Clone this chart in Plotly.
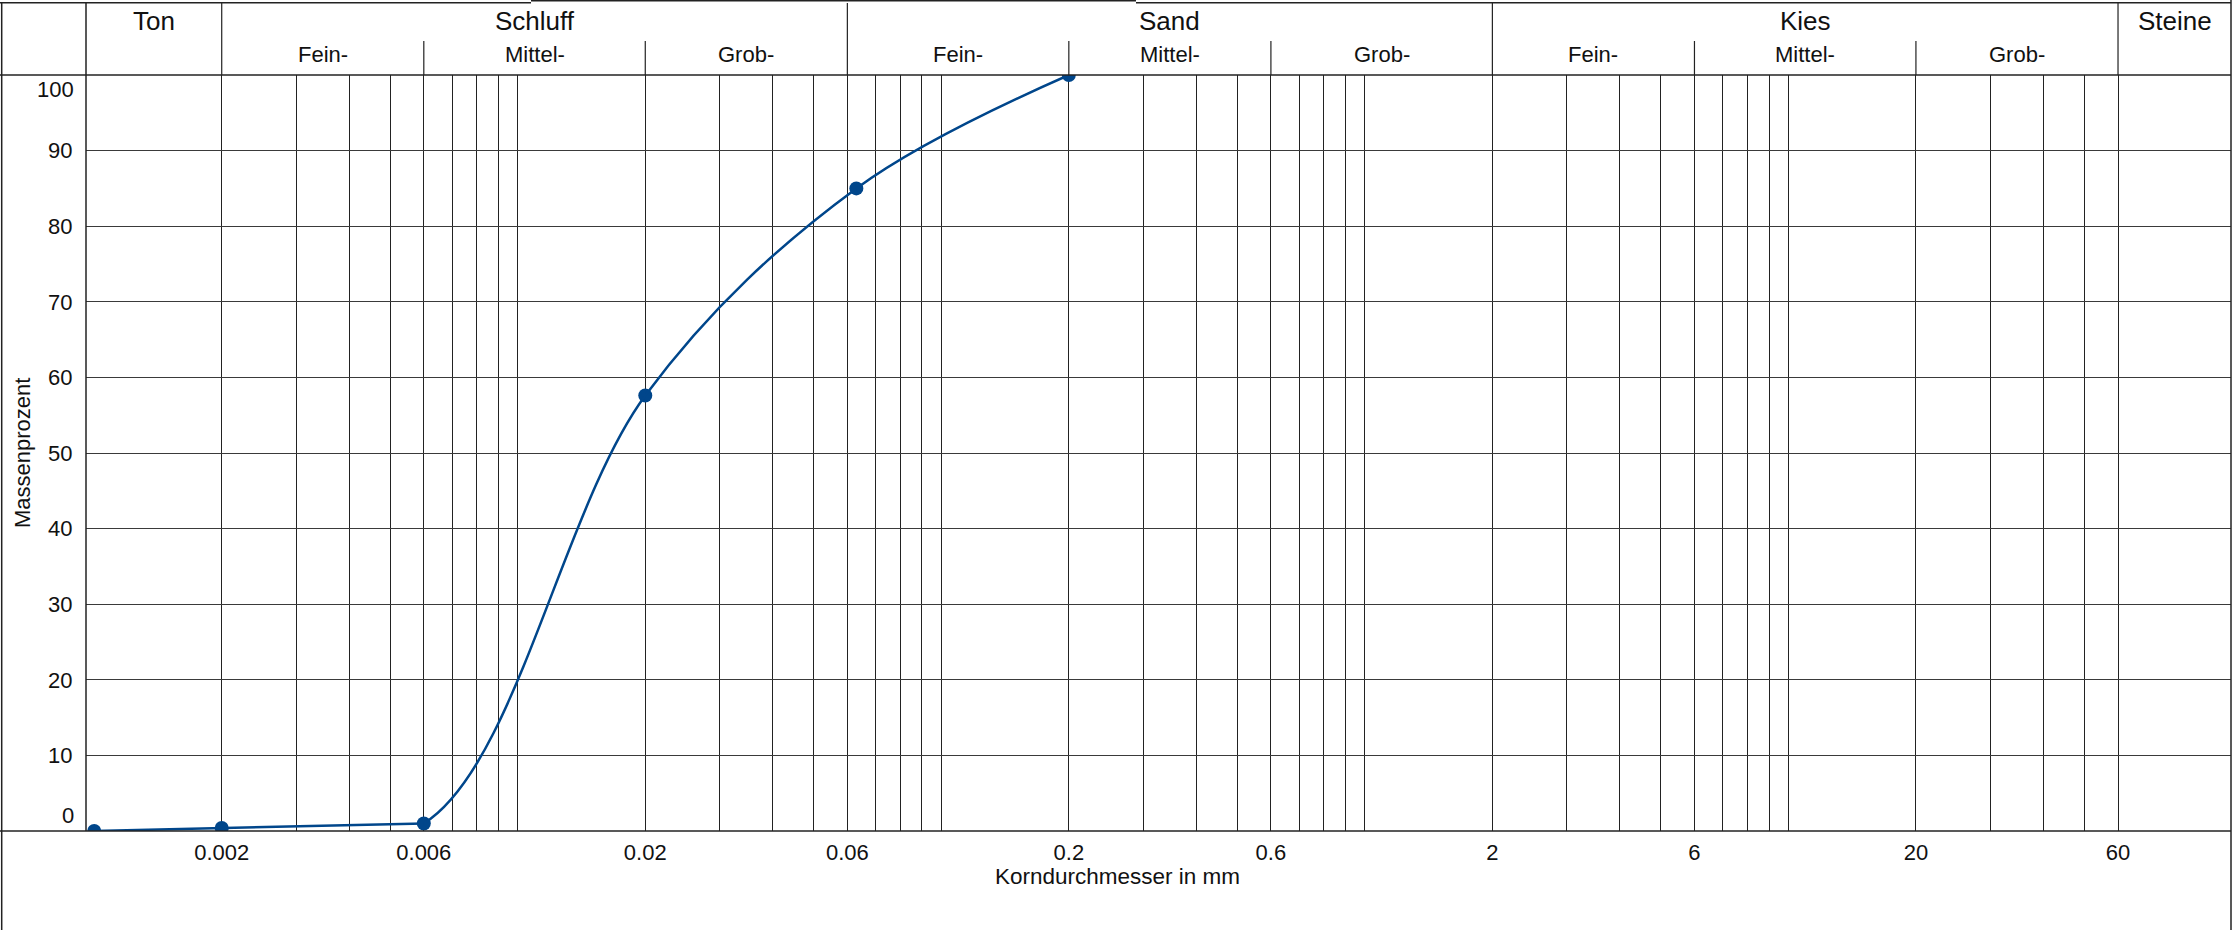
import math
import plotly.graph_objects as go

# ---------------- data ----------------
diam = [0.001, 0.002, 0.006, 0.02, 0.063, 0.2]          # Korndurchmesser in mm
mass = [0.0, 0.4, 1.0, 57.6, 85.0, 100.0]               # Massenprozent

x_tick_vals = [0.002, 0.006, 0.02, 0.06, 0.2, 0.6, 2, 6, 20, 60]
x_tick_text = ["0.002", "0.006", "0.02", "0.06", "0.2", "0.6", "2", "6", "20", "60"]
x_minor_vals = [0.003, 0.004, 0.005, 0.007, 0.008, 0.009, 0.01,
                0.03, 0.04, 0.05, 0.07, 0.08, 0.09, 0.1,
                0.3, 0.4, 0.5, 0.7, 0.8, 0.9, 1,
                3, 4, 5, 7, 8, 9, 10,
                30, 40, 50]
y_tick_vals = [10, 20, 30, 40, 50, 60, 70, 80, 90]
y_end_ticks = [0, 100]

group_names = ["Ton", "Schluff", "Sand", "Kies", "Steine"]
group_bounds = [0.002, 0.06, 2, 60]
sub_names = ["Fein-", "Mittel-", "Grob-"]
sub_bounds = [[0.002, 0.006, 0.02, 0.06], [0.06, 0.2, 0.6, 2], [2, 6, 20, 60]]

x_title = "Korndurchmesser in mm"
y_title = "Massenprozent"

# ---------------- geometry ----------------
W, H = 2234, 930
L, R, T, B = 86, 3, 3, 99
pw, ph = W - L - R, H - T - B
x_lo, x_hi = -3.0194, 2.0449             # log10 range of x axis
header_px = 72
dom_top = (ph - header_px) / ph
sub_line_y = (ph - 38) / ph

def py(px_from_top):
    return (H - B - px_from_top) / ph

def px(px_from_left):
    return (px_from_left - L) / pw

# the smooth part of the curve is drawn in its own (identically scaled) x-window
# starting at the 3rd sieve, so the straight fine-fraction part stays straight
k_smooth = 2
smooth_lo = math.log10(diam[k_smooth])
smooth_dom0 = (smooth_lo - x_lo) / (x_hi - x_lo)

LINE = "#222222"
BLUE = "#00468b"
FONT = "Arial, Liberation Sans, sans-serif"

fig = go.Figure()
fig.add_trace(go.Scatter(
    x=diam[:k_smooth + 1], y=mass[:k_smooth + 1], mode="lines",
    line=dict(color=BLUE, width=2.5), showlegend=False, hoverinfo="skip"))
fig.add_trace(go.Scatter(
    x=diam[k_smooth - 1:], y=mass[k_smooth - 1:], mode="lines",
    line=dict(color=BLUE, width=2.5, shape="spline", smoothing=1.0),
    xaxis="x2", yaxis="y2", showlegend=False, hoverinfo="skip"))
fig.add_trace(go.Scatter(
    x=diam, y=mass, mode="markers",
    marker=dict(color=BLUE, size=14), showlegend=False, hoverinfo="x+y"))

shapes = []
for b in group_bounds:
    shapes.append(dict(type="line", xref="x", yref="paper", x0=b, x1=b,
                       y0=dom_top, y1=1, line=dict(color=LINE, width=1.2)))
for sb in sub_bounds:
    for b in sb[1:3]:
        shapes.append(dict(type="line", xref="x", yref="paper", x0=b, x1=b,
                           y0=dom_top, y1=sub_line_y, line=dict(color=LINE, width=1.2)))
shapes.append(dict(type="line", xref="paper", yref="paper", x0=0, x1=0, y0=0, y1=1,
                   line=dict(color=LINE, width=1.5)))
shapes.append(dict(type="line", xref="paper", yref="paper", x0=px(0), x1=1,
                   y0=dom_top, y1=dom_top, line=dict(color=LINE, width=1.5)))
shapes.append(dict(type="line", xref="paper", yref="paper", x0=px(0), x1=1,
                   y0=0, y1=0, line=dict(color=LINE, width=1.5)))
shapes.append(dict(type="line", xref="paper", yref="paper", x0=px(1.7), x1=px(1.7),
                   y0=py(930), y1=py(2.7), line=dict(color=LINE, width=1.5)))
shapes.append(dict(type="line", xref="paper", yref="paper", x0=1, x1=1,
                   y0=py(930), y1=py(0), line=dict(color=LINE, width=1.5)))
shapes.append(dict(type="line", xref="paper", yref="paper", x0=px(0), x1=px(531),
                   y0=py(2.7), y1=py(2.7), line=dict(color=LINE, width=1.5)))
shapes.append(dict(type="line", xref="paper", yref="paper", x0=px(531), x1=px(1136),
                   y0=py(0.7), y1=py(0.7), line=dict(color=LINE, width=1.5)))
shapes.append(dict(type="line", xref="paper", yref="paper", x0=px(1136), x1=1,
                   y0=py(2.7), y1=py(2.7), line=dict(color=LINE, width=1.5)))

annotations = []
edges = [10 ** x_lo] + group_bounds + [10 ** x_hi]
for i, name in enumerate(group_names):
    cx = (math.log10(edges[i]) + math.log10(edges[i + 1])) / 2
    annotations.append(dict(text=name, xref="x", yref="paper", x=cx, y=py(21),
                            xanchor="center", yanchor="middle", showarrow=False,
                            font=dict(family=FONT, size=26, color="#111")))
for sb in sub_bounds:
    for j, name in enumerate(sub_names):
        cx = (math.log10(sb[j]) + math.log10(sb[j + 1])) / 2
        annotations.append(dict(text=name, xref="x", yref="paper", x=cx, y=py(55),
                                xanchor="center", yanchor="middle", showarrow=False,
                                font=dict(family=FONT, size=22, color="#111")))
annotations.append(dict(text=str(y_end_ticks[0]), xref="paper", yref="y", x=px(76), y=2.1,
                        xanchor="right", yanchor="middle", showarrow=False,
                        font=dict(family=FONT, size=22, color="#111")))
annotations.append(dict(text=str(y_end_ticks[1]), xref="paper", yref="y", x=px(76), y=98.1,
                        xanchor="right", yanchor="middle", showarrow=False,
                        font=dict(family=FONT, size=22, color="#111")))
annotations.append(dict(text=x_title, xref="paper", yref="paper", x=px(1117), y=py(876),
                        xanchor="center", yanchor="middle", showarrow=False,
                        font=dict(family=FONT, size=22.5, color="#111")))
annotations.append(dict(text=y_title, xref="paper", yref="y", x=px(22), y=50,
                        xanchor="center", yanchor="middle", showarrow=False, textangle=-90,
                        font=dict(family=FONT, size=22, color="#111")))

fig.update_layout(
    width=W, height=H,
    margin=dict(l=L, r=R, t=T, b=B, pad=0),
    paper_bgcolor="white", plot_bgcolor="rgba(0,0,0,0)",
    font=dict(family=FONT, size=22, color="#111"),
    shapes=shapes, annotations=annotations,
    xaxis=dict(type="log", range=[x_lo, x_hi], domain=[0, 1], tickmode="array",
               tickvals=x_tick_vals, ticktext=x_tick_text,
               showgrid=True, gridcolor=LINE, gridwidth=1,
               ticks="outside", ticklen=2, tickcolor="rgba(0,0,0,0)",
               showline=False, zeroline=False,
               minor=dict(tickmode="array", tickvals=x_minor_vals, showgrid=True,
                          gridcolor=LINE, gridwidth=1, ticks="")),
    yaxis=dict(range=[0, 100], domain=[0, dom_top], tickmode="array",
               tickvals=y_tick_vals, showgrid=True, gridcolor="#3a3a3a", gridwidth=1.4,
               ticks="outside", ticklen=8, tickcolor="rgba(0,0,0,0)",
               showline=False, zeroline=False),
    xaxis2=dict(type="log", range=[smooth_lo, x_hi], domain=[smooth_dom0, 1],
                anchor="y2", visible=False, showgrid=False, zeroline=False),
    yaxis2=dict(range=[0, 100], domain=[0, dom_top], anchor="x2",
                visible=False, showgrid=False, zeroline=False),
)

fig.write_html("out.html", config={"displayModeBar": False},
               post_script="document.body.style.margin='0px';")
